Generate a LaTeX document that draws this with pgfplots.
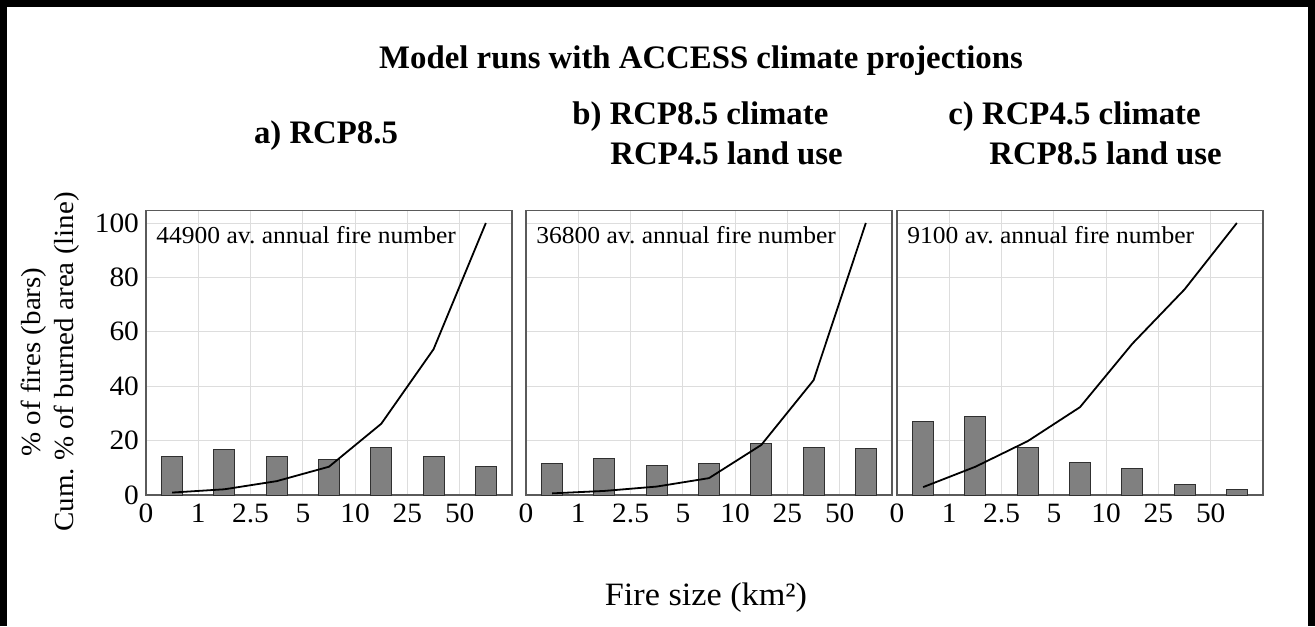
\documentclass[border=0pt]{standalone}
\usepackage{pgfplots}
\pgfplotsset{compat=1.18}
\usepackage{pgfplotstable}
\usepackage{fontspec}
\setmainfont{Liberation Serif}
\newfontfamily\sfont{Liberation Serif}[FakeStretch=1.05]
\frenchspacing
\definecolor{barfill}{HTML}{808080}
\definecolor{baredge}{HTML}{303030}
\definecolor{gridgray}{HTML}{DDDDDD}
\definecolor{axisgray}{HTML}{5A5A5A}

\pgfplotstableread{
x bar line
0.5 14.1 0.9
1.5 16.9 2.1
2.5 14.2 5.1
3.5 13.1 10.4
4.5 17.5 26.2
5.5 14.2 53.6
6.5 10.6 100
}\dataA
\pgfplotstableread{
x bar line
0.5 11.6 0.6
1.5 13.6 1.5
2.5 11.0 3.1
3.5 11.4 6.2
4.5 18.8 18.4
5.5 17.5 42.2
6.5 17.0 100
}\dataB
\pgfplotstableread{
x bar line
0.5 26.9 2.9
1.5 29.0 10.4
2.5 17.3 19.8
3.5 11.8 32.3
4.5 9.6 55.6
5.5 3.8 75.6
6.5 1.9 100
}\dataC

\pgfplotsset{
  panel/.style={
    anchor=south west, scale only axis,
    width=183pt, height=142.25pt,
    xmin=0, xmax=7, ymin=0, ymax=104.6,
    xtick={0,...,6}, xticklabels={0,1,2.5,5,10,25,50},
    ytick={0,20,...,100},
    grid=major,
    major grid style={line width=0.5pt, draw=gridgray},
    tick style={draw=none},
    axis line style={draw=axisgray, line width=0.8pt},
    tick label style={font=\sfont\fontsize{14}{16}\selectfont},
    xticklabel style={yshift=-1pt},
    /pgf/number format/assume math mode=true,
  },
  barplot/.style={ybar, bar width=0.4, fill=barfill, draw=baredge, line width=0.5pt},
  lineplot/.style={black, line width=0.9pt, mark=none},
}
\tikzset{note/.style={anchor=base west, inner sep=0, xshift=5pt, yshift=-16.75pt, font=\sfont\fontsize{12.15}{14}\selectfont}}

\begin{document}
\begin{tikzpicture}
\useasboundingbox (0,0) rectangle (657.5pt,313pt);
% outer frame
\draw[line width=3.5pt] (1.75pt,0) -- (1.75pt,311.25pt) -- (655.75pt,311.25pt) -- (655.75pt,0);

\begin{axis}[panel, at={(73pt,65.5pt)}]
\addplot[barplot] table[x=x,y=bar] {\dataA};
\addplot[lineplot] table[x=x,y=line] {\dataA};
\node[note] at (rel axis cs:0,1) {44900 av. annual fire number};
\end{axis}

\begin{axis}[panel, at={(263pt,65.5pt)}, yticklabels={}]
\addplot[barplot] table[x=x,y=bar] {\dataB};
\addplot[lineplot] table[x=x,y=line] {\dataB};
\node[note] at (rel axis cs:0,1) {36800 av. annual fire number};
\end{axis}

\begin{axis}[panel, at={(448.5pt,65.5pt)}, yticklabels={}]
\addplot[barplot] table[x=x,y=bar] {\dataC};
\addplot[lineplot] table[x=x,y=line] {\dataC};
\node[note] at (rel axis cs:0,1) {9100 av. annual fire number};
\end{axis}

% y labels
\node[rotate=90, anchor=base, inner sep=0, font=\sfont\fontsize{13.8}{16}\selectfont] at (20pt,132pt) {\% of fires (bars)};
\node[rotate=90, anchor=base, inner sep=0, font=\sfont\fontsize{13.8}{16}\selectfont] at (36.5pt,132pt) {Cum. \% of burned area (line)};
% x label
\node[anchor=base, inner sep=0, font=\sfont\fontsize{16.3}{19}\selectfont] at (353pt,10.5pt) {Fire size (km²)};

% titles
\node[anchor=base, inner sep=0, font=\fontsize{16.4}{19}\selectfont\bfseries] at (350.5pt,278.5pt) {Model runs with ACCESS climate projections};
\node[anchor=base, inner sep=0, font=\fontsize{16.4}{19}\selectfont\bfseries] at (163pt,241pt) {a) RCP8.5};
\node[anchor=base west, inner sep=0, font=\fontsize{16.4}{19}\selectfont\bfseries] at (286pt,250.5pt) {b) RCP8.5 climate};
\node[anchor=base west, inner sep=0, font=\fontsize{16.4}{19}\selectfont\bfseries] at (305pt,230.5pt) {RCP4.5 land use};
\node[anchor=base west, inner sep=0, font=\fontsize{16.4}{19}\selectfont\bfseries] at (474pt,250.5pt) {c) RCP4.5 climate};
\node[anchor=base west, inner sep=0, font=\fontsize{16.4}{19}\selectfont\bfseries] at (494.5pt,230.5pt) {RCP8.5 land use};
\end{tikzpicture}
\end{document}
